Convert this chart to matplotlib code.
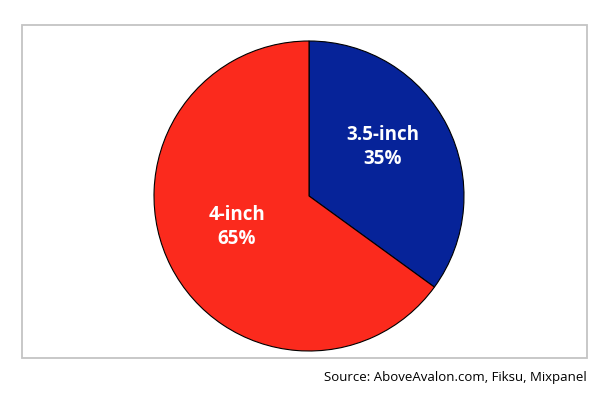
import matplotlib
matplotlib.use("Agg")
import matplotlib.pyplot as plt
from matplotlib.patches import Rectangle

categories = ["3.5-inch", "4-inch"]
shares = [35, 65]
colors = ["#062399", "#fb2a1d"]
source = "Source: AboveAvalon.com, Fiksu, Mixpanel"

W, H = 610, 401
fig = plt.figure(figsize=(W / 100, H / 100), dpi=100)
ax = fig.add_axes([0, 0, 1, 1])
ax.set_xlim(0, W)
ax.set_ylim(0, H)
ax.set_aspect("equal")
ax.axis("off")

ax.add_patch(Rectangle((22, H - 358), 565, 333, fill=False,
                       edgecolor="#c4c4c4", linewidth=1.3))

cx, cy, r = 309, H - 196, 155
wedges, _ = ax.pie(shares, colors=colors, startangle=90, counterclock=False,
                   center=(cx, cy), radius=r,
                   wedgeprops=dict(edgecolor="black", linewidth=0.8))
ax.set_xlim(0, W)
ax.set_ylim(0, H)

label_pos = [(383, H - 147), (237, H - 227)]
for cat, v, (x, y) in zip(categories, shares, label_pos):
    ax.text(x, y, f"{cat}\n{v}%", color="white", fontsize=13.5,
            fontweight="bold", family="Open Sans", ha="center", va="center",
            linespacing=1.3)

ax.text(587, H - 377, source, fontsize=9.5, family="Open Sans",
        ha="right", va="center", color="black")

fig.savefig("out.png", dpi=100)
